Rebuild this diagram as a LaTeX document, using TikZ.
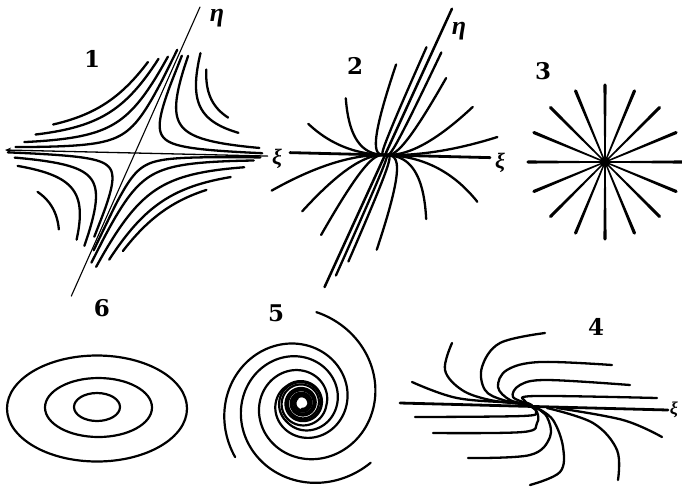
\documentclass[tikz,border=0pt]{standalone}
\usepackage{fontspec}
\newfontfamily\grk{Liberation Serif}
\newfontfamily\digf{DejaVu Serif}
\usetikzlibrary{arrows.meta,calc}
\newcommand\myhyp[3]{\draw[traj] plot[domain=#2:#3,samples=80,smooth] (\x,{#1/\x});}
% node trajectory ending at (U,V) with exponent k: v = V (u/U)^k
\newcommand\mypar[3]{\draw[traj] plot[domain=0.002:1,samples=60,smooth] ({#1*\x},{#2*exp(#3*ln(\x))});}
% spiral arm: start radius, start angle
\newcommand\myspiral[2]{\draw[line width=2.2pt] plot[domain=0:1750,samples=700,smooth]
  ({302+#1*exp(-0.17*min(\x/57.2958,7.8)-0.06*max(\x/57.2958-7.8,0))*cos(#2-\x)},
   {403-#1*exp(-0.17*min(\x/57.2958,7.8)-0.06*max(\x/57.2958-7.8,0))*sin(#2-\x)});}
\begin{document}
\begin{tikzpicture}[x=1pt,y=-1pt,line cap=round,line join=round,
  traj/.style={line width=2.3pt},
  axisl/.style={line width=1.3pt},
  lab/.style={font=\fontsize{23}{23}\selectfont\digf\bfseries, inner sep=0pt},
  glab/.style={font=\fontsize{#1}{#1}\selectfont\grk\bfseries\itshape, inner sep=0pt}]
\useasboundingbox (0,0) rectangle (682,491);

% ---------- Panel 1: saddle ----------
\begin{scope}[shift={(135,153)}, x={(130pt,-3pt)}, y={(65pt,146pt)}]
  \coordinate (p1c) at (0,0);
  \coordinate (p1l) at (-1,0);
  \coordinate (p1r) at (1.02,0);
  \coordinate (p1t) at (0,1);
  \coordinate (p1b) at (0,-0.98);
  \draw[axisl,-{Stealth[length=6pt,width=5pt]}] (p1c) -- (p1l);
  \draw[axisl] (p1c) -- (p1r);
  \draw[line width=1.1pt] (p1b) -- (p1t);
  % upper left
  \myhyp{-0.13}{-0.72}{-0.21}
  \myhyp{-0.09}{-0.82}{-0.14}
  \myhyp{-0.05}{-0.88}{-0.075}
  \myhyp{-0.02}{-0.93}{-0.028}
  % upper right
  \myhyp{0.15}{0.26}{0.59}
  \myhyp{0.11}{0.16}{0.72}
  \myhyp{0.05}{0.075}{0.93}
  \myhyp{0.018}{0.027}{0.97}
  % lower left
  \myhyp{0.17}{-0.61}{-0.32}
  \myhyp{0.09}{-0.85}{-0.15}
  \myhyp{0.045}{-0.9}{-0.07}
  \myhyp{0.015}{-0.97}{-0.025}
  % lower right
  \myhyp{-0.16}{0.24}{0.67}
  \myhyp{-0.12}{0.165}{0.81}
  \myhyp{-0.07}{0.09}{0.88}
  \myhyp{-0.03}{0.04}{0.93}
  \myhyp{-0.01}{0.015}{0.97}
\end{scope}
\node[glab=26] (eta1) at (217,18) {η};
\node[glab=22] (xi1) at (277,159) {ξ};
\node[lab] (n1) at (92,59) {1};

% ---------- Panel 2: node ----------
\begin{scope}[shift={(385,155)}, x={(100pt,-2.5pt)}, y={(65pt,142pt)}]
  \coordinate (p2c) at (0,0);
  \coordinate (p2l) at (-0.95,0);
  \coordinate (p2r) at (1.05,0);
  \coordinate (p2t) at (0,1.03);
  \coordinate (p2b) at (0,-0.93);
  \draw[line width=2.8pt] (p2l) -- (p2r);
  \draw[line width=2.5pt] (p2b) -- (p2t);
  % upper
  \mypar{-0.9}{0.204}{2}
  \mypar{-0.645}{0.389}{2.2}
  \mypar{-0.3}{0.633}{2.8}
  \mypar{-0.078}{0.76}{5}
  \mypar{0.093}{0.726}{5}
  \mypar{0.256}{0.547}{3}
  \mypar{0.65}{0.35}{2.2}
  \mypar{1.03}{0.145}{2}
  % lower
  \mypar{-0.96}{-0.268}{2}
  \mypar{-0.564}{-0.407}{2.2}
  \mypar{-0.27}{-0.569}{3}
  \mypar{0.06}{-0.85}{5}
  \mypar{0.12}{-0.75}{5}
  \mypar{0.347}{-0.662}{3}
  \mypar{0.697}{-0.439}{2.2}
  \mypar{1.125}{-0.31}{2}
\end{scope}
\node[glab=26] (eta2) at (459,31) {η};
\node[glab=22] (xi2) at (500,163) {ξ};
\node[lab] (n2) at (355,66) {2};

% ---------- Panel 3: star ----------
\node[circle,fill=black,minimum size=10pt,inner sep=0pt] (c3) at (605,162) {};
\foreach \a in {0,22.5,...,337.5}{
  \fill ($(c3.center)+(\a+90:0.7)$) -- ($(c3.center)+(\a:77)+(\a+90:1.6)$)
     arc[start angle=\a+90, end angle=\a-90, radius=1.6] -- ($(c3.center)+(\a-90:0.7)$) -- cycle;
}
\node[lab] (n3) at (543,71) {3};

% ---------- Panel 4: degenerate node ----------
\coordinate (a4l) at (400,403);
\coordinate (a4r) at (668,410);
\draw[line width=2.8pt] (a4l) -- (a4r);
\node[glab=18] (xi4) at (674,410) {ξ};
\draw[traj] plot[smooth,tension=0.6] coordinates {(412,382) (457,398) (517,403) (530,405)};
\draw[traj] plot[smooth,tension=0.6] coordinates {(452,343) (445,370) (462,390) (490,400) (523,404)};
\draw[traj] plot[smooth,tension=0.6] coordinates {(545,333) (500,343) (482,367) (485,390) (503,400) (527,404)};
\draw[traj] plot[smooth,tension=0.6] coordinates {(612,365) (540,362) (507,370) (498,387) (510,400) (528,404)};
\draw[traj] plot[smooth,tension=0.6] coordinates {(630,385) (547,380) (520,385) (513,397) (530,404)};
\draw[traj] plot[smooth,tension=0.6] coordinates {(657,398) (535,396) (525,401) (532,405)};
\draw[traj] plot[smooth,tension=0.6] coordinates {(415,417) (522,416) (536,412) (533,406)};
\draw[traj] plot[smooth,tension=0.6] coordinates {(433,433) (523,432) (537,423) (537,412) (530,406)};
\draw[traj] plot[smooth,tension=0.6] coordinates {(468,458) (530,455) (550,437) (547,417) (535,407)};
\draw[traj] plot[smooth,tension=0.6] coordinates {(530,485) (560,472) (563,447) (553,420) (537,408)};
\draw[traj] plot[smooth,tension=0.6] coordinates {(618,480) (617,450) (593,423) (547,408)};
\draw[traj] plot[smooth,tension=0.6] coordinates {(662,437) (623,420) (557,408)};
\node[lab] (n4) at (596,327) {4};

% ---------- Panel 5: focus ----------
\myspiral{92}{81}
\myspiral{86}{219}
\myspiral{91}{319}
\node[lab] (n5) at (276,313) {5};

% ---------- Panel 6: centre ----------
\draw[line width=2.2pt] (97,408.5) ellipse [x radius=90, y radius=53];
\draw[line width=2.2pt] (98.5,407.5) ellipse [x radius=53.5, y radius=29.5];
\draw[line width=2.2pt] (97,407) ellipse [x radius=23, y radius=14];
\node[lab] (n6) at (102,308) {6};
\end{tikzpicture}
\end{document}
